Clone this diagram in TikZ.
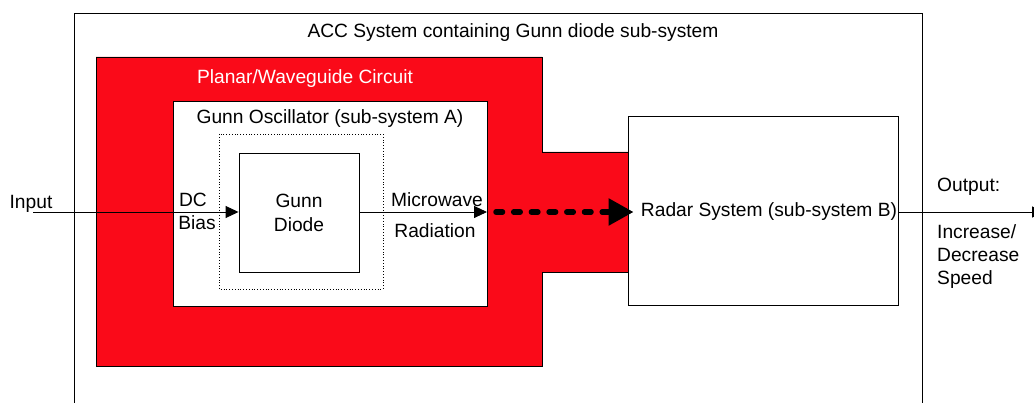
\documentclass[tikz,border=0pt]{standalone}
\usepackage{fontspec}
\setmainfont{Liberation Sans}
\usetikzlibrary{arrows.meta}
\definecolor{wgred}{RGB}{250,10,25}
\tikzset{
  box/.style={draw=black, line width=0.9pt, fill=white},
  lbl/.style={font=\fontsize{19.2}{22}\selectfont, inner sep=0pt},
  sig/.style={line width=0.9pt, -{Triangle[length=13pt,width=12pt]}},
  rf/.style={line width=5.5pt, line cap=round, dash pattern=on 6.5pt off 11.2pt, -{Triangle[length=25pt,width=26pt,line cap=butt]}},
}
\begin{document}
\begin{tikzpicture}[x=1pt,y=-1pt]
\useasboundingbox (0,0) rectangle (1034,403);
\clip (0,0) rectangle (1034,403);
\fill[white] (0,0) rectangle (1034,403);
% outer ACC box
\draw[line width=0.9pt] (74,420) -- (74,13) -- (922,13) -- (922,420);
\node[lbl] (acc) at (513,33) {ACC System containing Gunn diode sub-system};
% red planar/waveguide circuit
\draw[line width=0.9pt, fill=wgred] (96,57) -- (542,57) -- (542,152) -- (628,152) -- (628,272) -- (542,272) -- (542,366) -- (96,366) -- cycle;
\node[lbl, text=white] (pw) at (305,79) {Planar/Waveguide Circuit};
% gunn oscillator box
\draw[box] (173,101) rectangle (487,306);
\coordinate (oscE) at (487,212);
\node[lbl] (osc) at (330,119) {Gunn Oscillator (sub-system A)};
\draw[line width=0.8pt, dotted] (219,134) rectangle (383,289);
% gunn diode
\node[box, minimum width=120pt, minimum height=119pt, inner sep=0pt, align=center, lbl] (diode) at (299,212.5) {Gunn\\[2pt]Diode};
% radar system
\node[box, minimum width=270pt, minimum height=189pt, inner sep=0pt, lbl] (radar) at (763,210.5) {};
\node[lbl] (radart) at (769,212) {Radar System (sub-system B)};
% connectors
\coordinate (in) at (33,212);
\coordinate (out) at (1044,212);
\draw[sig] (in) -- (diode.west |- in);
\draw[sig] (diode.east |- in) -- (oscE);
\draw[rf] (oscE) ++(9,0) -- ([xshift=6pt]radar.west |- in);
\draw[line width=0.9pt, -{Triangle[length=12pt,width=11pt]}] (radar.east |- in) -- (out);
% labels
\node[lbl] (input) at (31,204) {Input};
\node[lbl] (dc) at (193,200) {DC};
\node[lbl] (bias) at (197,223) {Bias};
\node[lbl] (mw) at (437,200) {Microwave};
\node[lbl] (rad) at (435,231) {Radiation};
\node[lbl, anchor=west] (outl) at (937,187) {Output:};
\node[lbl, anchor=north west, align=left] (spd) at (937,224) {Increase/\\[1pt]Decrease\\[1pt]Speed};
\end{tikzpicture}
\end{document}
